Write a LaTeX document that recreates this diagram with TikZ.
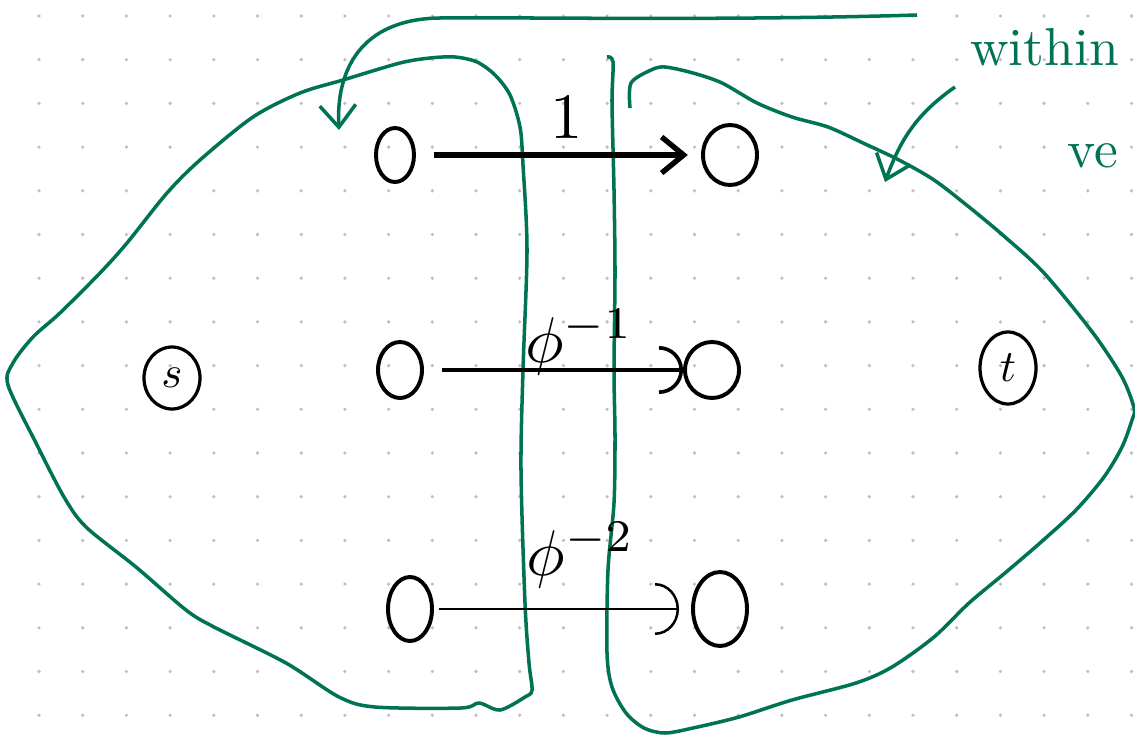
\documentclass[tikz,border=0pt]{standalone}
\usetikzlibrary{positioning,arrows.meta,shapes.geometric}
\definecolor{penGreen}{RGB}{0,115,85}
\newcommand{\handtxt}[1]{\scalebox{3.8}{#1}}
\newcommand{\handlbl}[1]{\scalebox{4.6}{#1}}

\begin{document}
\begin{tikzpicture}[>={Straight Barb[length=5.5mm,width=9mm]},
  vtx/.style={ellipse,draw,line width=2.8pt,minimum width=1.15cm,minimum height=1.5cm,inner sep=0pt},
  term/.style={ellipse,draw,line width=2.3pt,minimum width=1.4cm,minimum height=1.55cm,inner sep=0pt},
  wt/.style={inner sep=0pt,anchor=base},
  region/.style={draw=penGreen,line width=2.5pt},
  note/.style={inner sep=0pt,anchor=base west,text=penGreen}]
  \fill[white] (0,0) rectangle (28.375,18.375);
  \useasboundingbox (0,0) rectangle (28.375,18.375);
  % 点格子
  \foreach \i in {0,...,25}
    \foreach \j in {0,...,16}
      \fill[gray!50] ({0.975+1.0925*\i},{0.495+1.0925*\j}) circle (0.045);
  % 左の領域
  \draw[region] plot[smooth cycle] coordinates {(13.075,14.25) (13.0,15.2) (12.75,16.0) (12.375,16.5)
    (11.925,16.825) (11.375,16.95) (10.75,16.925) (10.0,16.8) (8.575,16.375) (7.5,16.05) (6.325,15.45)
    (5.0,14.375) (4.175,13.55) (3.175,12.3) (2.5,11.55) (1.5,10.55) (0.825,9.95) (0.325,9.3) (0.2,8.75)
    (0.9,7.3) (1.6,5.95) (2.15,5.2) (3.4,4.2) (4.65,3.125) (5.35,2.7) (7.15,1.8) (8.475,0.95) (9.375,0.7)
    (11.525,0.675) (11.975,0.8) (12.5,0.625) (13.125,0.95) (13.3,1.125) (13.225,1.8) (13.125,3.3)
    (13.025,6.625) (13.075,9.125) (13.175,12.125)};
  % 右の領域
  \draw[region] plot[smooth] coordinates {(15.75,15.675) (15.775,16.3) (16.275,16.625) (16.625,16.7)
    (17.325,16.55) (18.05,16.3) (18.925,15.8) (19.8,15.45) (20.7,15.2) (21.575,14.8) (22.475,14.375)
    (23.35,13.875) (24.225,13.2) (25.125,12.45) (26.1,11.55) (27.325,10.05) (28.05,8.95) (28.35,8.175)
    (28.3,7.875) (28.05,7.2) (27.6,6.45) (26.9,5.625) (26.0,4.8) (25.125,4.05) (24.225,3.3) (23.35,2.45)
    (22.3,1.7) (21.4,1.3) (19.8,0.875) (18.475,0.45) (17.325,0.175) (16.625,0.05) (16.1,0.175)
    (15.65,0.55) (15.3,1.2) (15.175,2.05) (15.2,4.125) (15.35,5.8) (15.375,7.45) (15.35,9.125)
    (15.375,11.55) (15.35,13.625) (15.3,15.8) (15.325,16.825) (15.175,16.95)};
  % 頂点
  \node[term] (s) at (4.3,8.925) {\scalebox{3.2}{$s$}};
  \node[term,minimum height=1.8cm] (t) at (25.2,9.175) {\scalebox{3.2}{$t$}};
  \node[vtx,minimum width=0.95cm,minimum height=1.35cm] (a1) at (9.875,14.5) {};
  \node[vtx,minimum width=1.35cm] (b1) at (18.25,14.5) {};
  \node[vtx,minimum width=1.1cm,minimum height=1.4cm] (a2) at (10.0,9.125) {};
  \node[vtx,minimum width=1.35cm,minimum height=1.4cm] (b2) at (17.8,9.125) {};
  \node[vtx,minimum width=1.1cm,minimum height=1.6cm] (a3) at (10.25,3.15) {};
  \node[vtx,minimum width=1.35cm,minimum height=1.85cm] (b3) at (18.0,3.15) {};
  % 辺
  \draw[line width=3.8pt,->,shorten <=0.45cm,shorten >=0.33cm] (a1) -- (b1)
    node[wt,pos=0.53,yshift=0.42cm] {\handlbl{1}};
  \draw[line width=2.6pt,-{Arc Barb[length=6mm,width=12mm]},shorten <=0.45cm] (a2) -- (b2)
    node[wt,pos=0.6,yshift=0.2cm] {\handlbl{$\phi^{-1}$}};
  \draw[line width=1.8pt,-{Arc Barb[length=6mm,width=13mm]},shorten <=0.12cm,shorten >=0.3cm] (a3) -- (b3)
    node[wt,pos=0.57,yshift=0.85cm] {\handlbl{$\phi^{-2}$}};
  % 注釈
  \node[note] (within) at (24.25,16.725) {\handtxt{within}};
  \node[note] (ve) at (26.675,14.175) {\handtxt{ve}};
  \coordinate (w1) at (22.925,18.0);
  \coordinate (r1) at (8.475,15.125);
  \coordinate (w2) at (23.875,16.2);
  \coordinate (r2) at (22.125,13.825);
  \draw[region,->] (w1) .. controls (18,17.85) and (13,17.95) .. (11,17.925)
    .. controls (9.0,17.9) and (8.4,16.6) .. (r1);
  \draw[region,->] (w2) to[out=215,in=70] (r2);
\end{tikzpicture}
\end{document}
